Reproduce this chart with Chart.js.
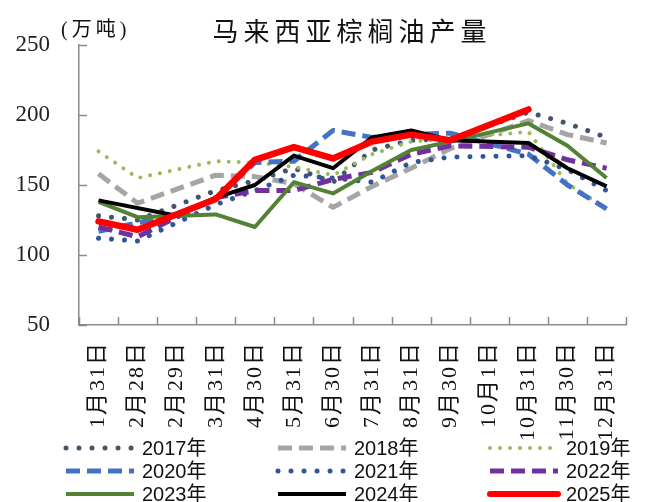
<!DOCTYPE html>
<html>
<head>
<meta charset="utf-8">
<script src="https://cdn.jsdelivr.net/npm/chart.js@4"></script>
<style>
  html, body { margin: 0; padding: 0; background: #ffffff; }
  canvas { display: block; }
</style>
</head>
<body>
<canvas id="chart" width="649" height="502"></canvas>
<script>
// Month-end reporting dates (category axis)
const categories = ['1月31日', '2月28日', '2月29日', '3月31日', '4月30日', '5月31日', '6月30日',
                    '7月31日', '8月31日', '9月30日', '10月1日', '10月31日', '11月30日', '12月31日'];

// Yearly production, 万吨 (null = no report on that date)
const years = ['2017年', '2018年', '2019年', '2020年', '2021年', '2022年', '2023年', '2024年', '2025年'];
const prod2017 = [128, 125, null, 146, 153, 162, 152, 175, 182, 183, null, 202, 194, 184];
const prod2018 = [158, 137, null, 157, 156, 151, 134, 149, 162, 176, null, 196, 186, 180];
const prod2019 = [174, 155, null, 167, 166, 163, 157, 172, 181, 183, null, 188, 151, 133];
const prod2020 = [117, null, 129, 140, 166, 167, 189, 184, 186, 187, null, 172, 150, 133];
const prod2021 = [112, 110, null, 136, 146, 157, 155, 152, 166, 170, null, 171, 161, 146];
const prod2022 = [120, 113, null, 141, 146, 146, 154, 159, 172, 178, null, 177, 168, 162];
const prod2023 = [138, 127, null, 129, 120, 152, 144, 160, 175, 181, null, 194, 178, 155];
const prod2024 = [139, null, 128, 141, 150, 171, 162, 184, 189, 182, null, 180, 162, 149];
const prod2025 = [124, 118, null, 140, 168, 177, 169, 181, 186, 182, null, 204];

// Y axis range and step
const yMin = 50, yMax = 250, yStep = 50;

const AXIS_COLOR = '#8a8a8a';
const SERIF = "'Liberation Serif', 'Noto Sans CJK SC', serif";
const SANS = "'Liberation Sans', 'Noto Sans CJK SC', sans-serif";

const seriesValues = [prod2017, prod2018, prod2019, prod2020, prod2021, prod2022, prod2023, prod2024, prod2025];
const seriesStyles = [
  { color: '#44546A', width: 5, dash: [0.01, 13], cap: 'round' },
  { color: '#A5A5A5', width: 5, dash: [14, 7],    cap: 'butt' },
  { color: '#9BBB59', width: 4, dash: [0.01, 10], cap: 'round' },
  { color: '#4472C4', width: 5, dash: [14, 7],    cap: 'butt' },
  { color: '#2F5597', width: 5, dash: [0.01, 13], cap: 'round' },
  { color: '#7030A0', width: 5, dash: [14, 7],    cap: 'butt' },
  { color: '#548235', width: 4, dash: [],         cap: 'butt' },
  { color: '#000000', width: 4, dash: [],         cap: 'butt' },
  { color: '#FF0000', width: 6.5, dash: [],       cap: 'round' }
];

const datasets = years.map((label, i) => ({
  label,
  data: seriesValues[i],
  borderColor: seriesStyles[i].color,
  backgroundColor: seriesStyles[i].color,
  borderWidth: seriesStyles[i].width,
  borderDash: seriesStyles[i].dash,
  borderCapStyle: seriesStyles[i].cap,
  borderJoinStyle: 'round',
  pointRadius: 0,
  tension: 0,
  spanGaps: true,
  fill: false,
  order: years.length - 1 - i   // later years painted on top
}));

// Short tick marks pointing into the plot area
const innerTicks = {
  id: 'innerTicks',
  beforeDatasetsDraw(chart) {
    const { ctx, chartArea: a, scales: { x, y } } = chart;
    ctx.save();
    ctx.strokeStyle = AXIS_COLOR;
    ctx.lineWidth = 1.5;
    ctx.beginPath();
    y.ticks.forEach(t => {
      const py = Math.round(y.getPixelForValue(t.value)) + 0.5;
      ctx.moveTo(a.left, py);
      ctx.lineTo(a.left + 8, py);
    });
    const n = categories.length;
    const step = x.getPixelForValue(1) - x.getPixelForValue(0);
    for (let i = 0; i <= n; i++) {
      const px = Math.round(x.getPixelForValue(0) - step / 2 + i * step) + 0.5;
      ctx.moveTo(px, a.bottom);
      ctx.lineTo(px, a.bottom - 8);
    }
    ctx.stroke();
    ctx.restore();
  }
};

// Slightly wider character spacing for the rotated date labels
const spacedDateLabels = {
  id: 'spacedDateLabels',
  afterLayout(chart) {
    const sx = chart.scales.x;
    if (sx && !sx._spacedLabels) {
      const base = sx.drawLabels;
      sx.drawLabels = function (area) {
        const c = this.ctx;
        c.save();
        c.letterSpacing = '2px';
        base.call(this, area);
        c.restore();
      };
      sx._spacedLabels = true;
    }
  }
};

// Title and unit caption
const headerText = {
  id: 'headerText',
  afterDraw(chart) {
    const { ctx } = chart;
    ctx.save();
    ctx.fillStyle = '#111111';
    ctx.textBaseline = 'middle';
    ctx.textAlign = 'center';
    ctx.font = "26px 'Noto Sans CJK SC', sans-serif";
    ctx.letterSpacing = '5px';
    ctx.fillText('马来西亚棕榈油产量', 352, 31);
    ctx.textAlign = 'left';
    ctx.font = '20px ' + SERIF;
    ctx.letterSpacing = '4px';
    ctx.fillText('(万吨)', 61, 31);
    ctx.restore();
  }
};

// Three-column legend under the axis labels
const gridLegend = {
  id: 'gridLegend',
  afterDraw(chart) {
    const { ctx } = chart;
    const colX = [66, 278, 490];
    const rowY = [448, 471, 494];
    const lineLen = 68;
    ctx.save();
    chart.data.datasets.forEach((ds, i) => {
      const cx = colX[i % 3], cy = rowY[Math.floor(i / 3)];
      ctx.strokeStyle = ds.borderColor;
      ctx.lineWidth = Math.min(ds.borderWidth, 6);
      ctx.lineCap = ds.borderCapStyle;
      ctx.setLineDash(ds.borderDash);
      ctx.beginPath();
      ctx.moveTo(cx, cy);
      ctx.lineTo(cx + lineLen, cy);
      ctx.stroke();
      ctx.setLineDash([]);
      ctx.fillStyle = '#111111';
      ctx.font = '20px ' + SANS;
      ctx.textBaseline = 'middle';
      ctx.textAlign = 'left';
      ctx.fillText(ds.label, cx + lineLen + 8, cy + 1);
    });
    ctx.restore();
  }
};

new Chart(document.getElementById('chart'), {
  type: 'line',
  data: { labels: categories, datasets },
  options: {
    responsive: false,
    devicePixelRatio: 1,
    animation: false,
    layout: { padding: { top: 45, left: 0, right: 0, bottom: 0 } },
    plugins: {
      legend: { display: false },
      title: { display: false },
      tooltip: { enabled: false }
    },
    scales: {
      x: {
        type: 'category',
        offset: true,
        grid: { display: false, drawTicks: false },
        border: { display: true, color: AXIS_COLOR, width: 1.5 },
        ticks: {
          autoSkip: false,
          minRotation: 90,
          maxRotation: 90,
          padding: 16,
          color: '#111111',
          font: { family: SERIF, size: 22 }
        },
        afterFit(scale) { scale.height = 177; }
      },
      y: {
        min: yMin,
        max: yMax,
        grid: { display: false, drawTicks: false },
        border: { display: true, color: AXIS_COLOR, width: 1.5 },
        ticks: {
          stepSize: yStep,
          padding: 29,
          color: '#222222',
          font: { family: SERIF, size: 23 }
        },
        afterFit(scale) { scale.width = 79; }
      }
    }
  },
  plugins: [innerTicks, spacedDateLabels, headerText, gridLegend]
});
</script>
</body>
</html>
